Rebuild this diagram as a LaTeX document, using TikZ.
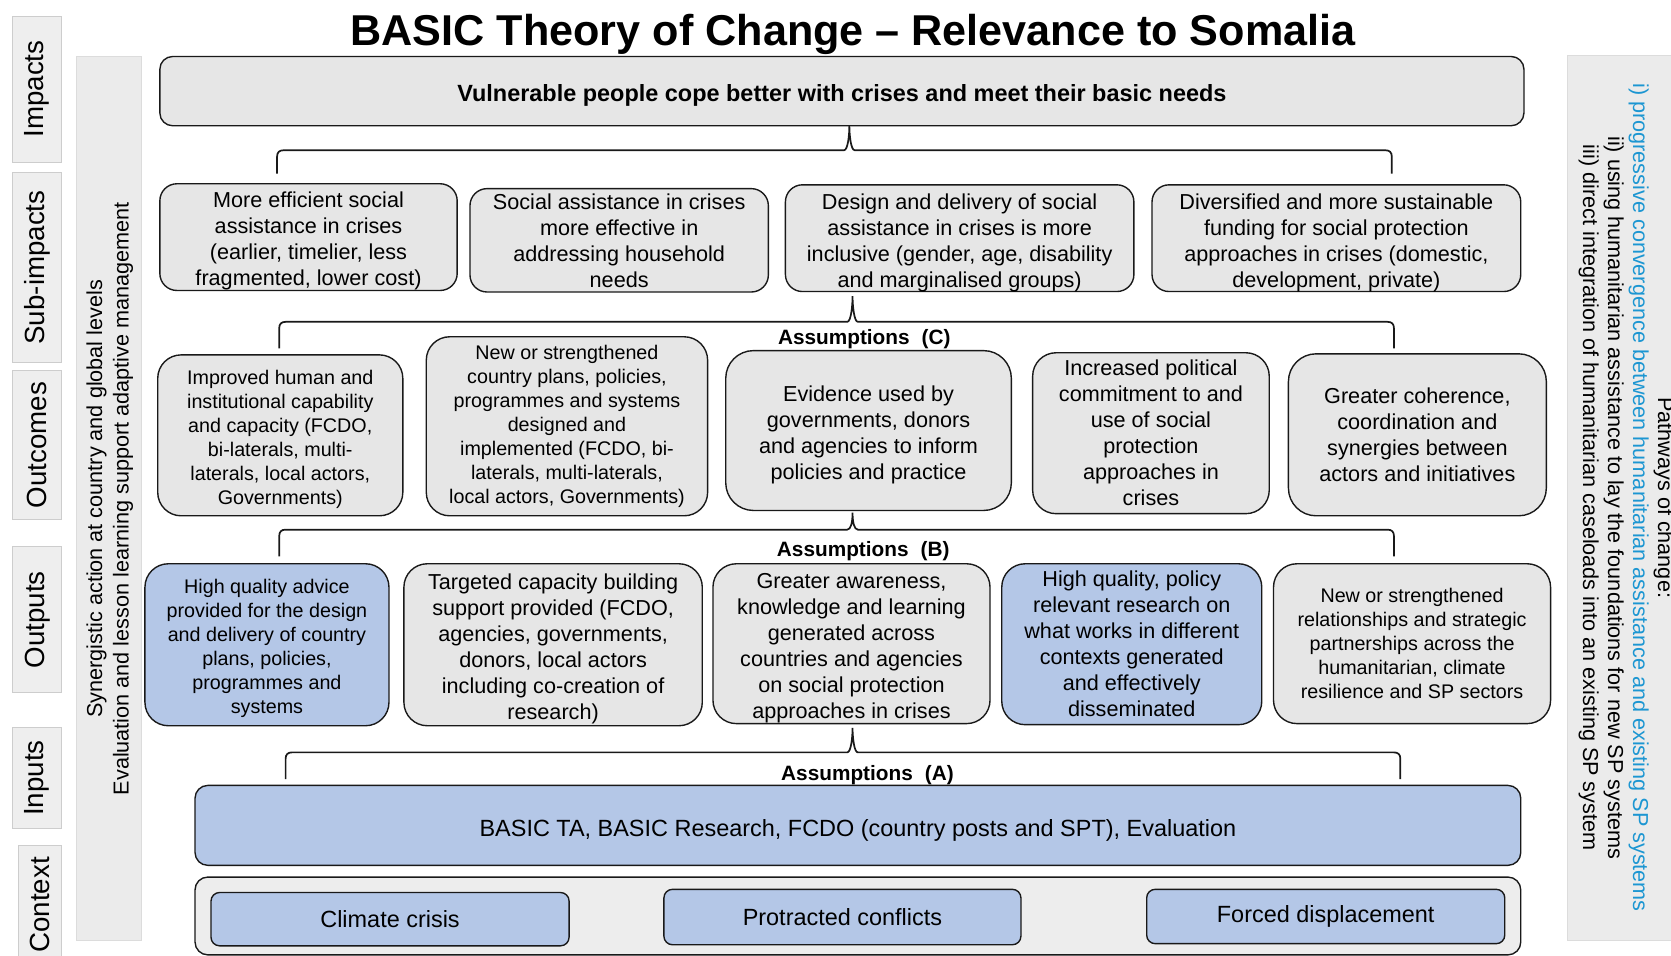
\documentclass[tikz,border=0pt]{standalone}
\usepackage{fontspec}
\setmainfont{Liberation Sans}
\usetikzlibrary{calc}

\definecolor{cardgray}{RGB}{230,230,230}
\definecolor{cardblue}{RGB}{180,199,231}
\definecolor{stripfill}{RGB}{235,235,235}
\definecolor{tabfill}{RGB}{238,238,238}
\definecolor{tabline}{RGB}{205,205,205}
\definecolor{ctxfill}{RGB}{237,237,237}
\definecolor{inkline}{RGB}{25,25,25}
\definecolor{pathblue}{RGB}{28,150,210}

\newcommand\bodyfont{\fontsize{20.3}{24.4}\selectfont}
\newcommand\smallbodyfont{\fontsize{18.5}{22.5}\selectfont}
% taller first line, so that a text block sits a little low in its card
\newcommand\lineone{\rule{0pt}{1.12em}}

% bracket joining one box above to a row of boxes below:
% #1 left foot, #2 right foot, #3 peak, #4 any point on the bar
\newcommand\tocbrace[4]{%
  \draw[bracket] let \p1=(#1), \p2=(#2), \p3=(#3), \p4=(#4) in
    (\x1,\y1) -- (\x1,{\y4-6pt})
    .. controls (\x1,{\y4-2pt}) and ({\x1+2pt},\y4) .. ({\x1+6pt},\y4)
    -- ({\x3-5pt},\y4)
    .. controls ({\x3-1.5pt},\y4) and (\x3,{\y3-9pt}) .. (\x3,\y3)
    .. controls (\x3,{\y3-9pt}) and ({\x3+1.5pt},\y4) .. ({\x3+5pt},\y4)
    -- ({\x2-6pt},\y4)
    .. controls ({\x2-2pt},\y4) and (\x2,{\y4-2pt}) .. (\x2,{\y4-6pt})
    -- (\x2,\y1);}

\begin{document}
\begin{tikzpicture}[x=1pt,y=-1pt,
  every node/.style={inner sep=0pt,outer sep=0pt,align=center,text=black},
  lowtext/.style={execute at begin node={\rule{0pt}{1.12em}}},
  card/.style={draw=inkline,line width=1.3pt,fill=cardgray,rounded corners=#1,lowtext},
  card/.default=22pt,
  bluecard/.style={card=#1,fill=cardblue},
  bluecard/.default=22pt,
  chip/.style={draw=inkline,line width=1.3pt,fill=cardblue,rounded corners=8pt,
    font=\fontsize{22}{26}\selectfont},
  tab/.style={draw=tabline,line width=0.8pt,fill=tabfill,rotate=90,
    font=\fontsize{26}{30}\selectfont},
  strip/.style={draw=tabline!70,line width=0.6pt,fill=stripfill},
  bracket/.style={draw=inkline,line width=1.6pt},
  assume/.style={font=\bfseries\fontsize{19.5}{22}\selectfont}
]
\useasboundingbox (0,0) rectangle (1568,897);

% title
\node[font=\bfseries\fontsize{40.5}{46}\selectfont] (title) at (800.5,32) {BASIC Theory of Change -- Relevance to Somalia};

% row labels on the left
\node[tab,minimum width=137pt,minimum height=46pt] (lImp) at (35,83.5) {Impacts};
\node[tab,minimum width=178pt,minimum height=46pt] (lSub) at (35,251) {Sub-impacts};
\node[tab,minimum width=139pt,minimum height=46pt] (lOut) at (35,417.5) {Outcomes};
\node[tab,minimum width=137pt,minimum height=46pt] (lOpt) at (35,581.5) {Outputs};
\node[tab,minimum width=94pt,minimum height=46pt] (lInp) at (35,730) {Inputs};
\node[tab,minimum width=112pt,minimum height=41pt] (lCtx) at (37.5,849) {Context};

% side strips
\node[strip,minimum width=61pt,minimum height=829pt] (synstrip) at (102.5,467.5) {};
\node[rotate=90,font=\fontsize{20.3}{25}\selectfont] (syntext) at (103,468)
  {Synergistic action at country and global levels\\Evaluation and lesson learning support adaptive management};

\node[strip,minimum width=120pt,minimum height=830pt] (pathstrip) at (1531,467) {};
\node[rotate=-90,font=\fontsize{20.3}{23.5}\selectfont] (pathtext) at (1526,467)
  {Pathways of change:\\
   \textcolor{pathblue}{i) progressive convergence between humanitarian assistance and existing SP systems}\\
   ii) using humanitarian assistance to lay the foundations for new SP systems\\
   iii) direct integration of humanitarian caseloads into an existing SP system};

% impact
\node[card=12pt,minimum width=1280pt,minimum height=65pt,font=\bfseries\fontsize{22}{26}\selectfont] (impact) at (790,85.5)
  {Vulnerable people cope better with crises and meet their basic needs};

% sub-impacts
\node[card=16pt,minimum width=279pt,minimum height=95pt,font=\bodyfont] (si1) at (289.5,222.5)
  {\lineone More efficient social\\assistance in crises\\(earlier, timelier, less\\fragmented, lower cost)};
\node[card=16pt,minimum width=280pt,minimum height=97pt,font=\bodyfont] (si2) at (581,225.5)
  {Social assistance in crises\\more effective in\\addressing household\\needs};
\node[card=16pt,minimum width=327pt,minimum height=99pt,font=\bodyfont] (si3) at (900.5,223.5)
  {\lineone Design and delivery of social\\assistance in crises is more\\inclusive (gender, age, disability\\and marginalised groups)};
\node[card=16pt,minimum width=346pt,minimum height=99pt,font=\bodyfont] (si4) at (1254,223.5)
  {\lineone Diversified and more sustainable\\funding for social protection\\approaches in crises (domestic,\\development, private)};

% outcomes
\node[card,minimum width=230pt,minimum height=151pt,font=\smallbodyfont] (o1) at (263,408.5)
  {\lineone Improved human and\\institutional capability\\and capacity (FCDO,\\bi-laterals, multi-\\laterals, local actors,\\Governments)};
\node[card,minimum width=264pt,minimum height=168pt,font=\smallbodyfont] (o2) at (532,400)
  {New or strengthened\\country plans, policies,\\programmes and systems\\designed and\\implemented (FCDO, bi-\\laterals, multi-laterals,\\local actors, Governments)};
\node[card=26pt,minimum width=268pt,minimum height=150pt,font=\bodyfont] (o3) at (815,404)
  {\lineone Evidence used by\\governments, donors\\and agencies to inform\\policies and practice};
\node[card,minimum width=222pt,minimum height=151pt,font=\bodyfont] (o4) at (1080,406.5)
  {Increased political\\commitment to and\\use of social\\protection\\approaches in\\crises};
\node[card=26pt,minimum width=242pt,minimum height=152pt,font=\bodyfont] (o5) at (1330,408)
  {Greater coherence,\\coordination and\\synergies between\\actors and initiatives};

% outputs
\node[bluecard,minimum width=229pt,minimum height=152pt,font=\smallbodyfont] (p1) at (250.5,605)
  {\lineone High quality advice\\provided for the design\\and delivery of country\\plans, policies,\\programmes and\\systems};
\node[card,minimum width=280pt,minimum height=152pt,font=\bodyfont] (p2) at (519,605)
  {\lineone Targeted capacity building\\support provided (FCDO,\\agencies, governments,\\donors, local actors\\including co-creation of\\research)};
\node[card,minimum width=260pt,minimum height=150pt,font=\bodyfont] (p3) at (799,604)
  {\lineone Greater awareness,\\knowledge and learning\\generated across\\countries and agencies\\on social protection\\approaches in crises};
\node[bluecard,minimum width=244pt,minimum height=151pt,font=\bodyfont] (p4) at (1062,604.5)
  {High quality, policy\\relevant research on\\what works in different\\contexts generated\\and effectively\\disseminated};
\node[card,minimum width=260pt,minimum height=150pt,font=\smallbodyfont] (p5) at (1325,604)
  {New or strengthened\\relationships and strategic\\partnerships across the\\humanitarian, climate\\resilience and SP sectors};

% inputs
\node[bluecard=12pt,minimum width=1244pt,minimum height=75pt,font=\fontsize{22}{26}\selectfont] (inputs) at (805,774.5)
  {BASIC TA, BASIC Research, FCDO (country posts and SPT), Evaluation};

% context
\node[draw=inkline,line width=1.3pt,rounded corners=12pt,fill=ctxfill,minimum width=1244pt,minimum height=73pt] (context) at (805,859.5) {};
\node[chip,minimum width=336pt,minimum height=50pt] (c1) at (366,862.5) {Climate crisis};
\node[chip,minimum width=335pt,minimum height=52pt] (c2) at (790.5,860.5) {Protracted conflicts};
\node[chip,minimum width=336pt,minimum height=51pt] (c3) at (1244,860) {Forced displacement};

% brackets between levels
\coordinate (b1l) at (260,163);  \coordinate (b1r) at (1306,163);
\coordinate (b1p) at ([xshift=7pt]impact.south); \coordinate (b1y) at (0,141);
\tocbrace{b1l}{b1r}{b1p}{b1y}

\coordinate (b2l) at (262,327);  \coordinate (b2r) at (1308,327);
\coordinate (b2p) at (800,278);  \coordinate (b2y) at (0,302);
\tocbrace{b2l}{b2r}{b2p}{b2y}
\node[assume] (asC) at (811,318) {Assumptions\hspace{0.3em} (C)};

\coordinate (b3l) at (262,522);  \coordinate (b3r) at (1308,522);
\coordinate (b3p) at (800,481);  \coordinate (b3y) at (0,497);
\tocbrace{b3l}{b3r}{b3p}{b3y}
\node[assume] (asB) at (810,517) {Assumptions\hspace{0.3em} (B)};

\coordinate (b4l) at (268,731);  \coordinate (b4r) at (1314,731);
\coordinate (b4p) at (800,683);  \coordinate (b4y) at (0,706);
\tocbrace{b4l}{b4r}{b4p}{b4y}
\node[assume] (asA) at (814,727) {Assumptions\hspace{0.3em} (A)};

\end{tikzpicture}
\end{document}
